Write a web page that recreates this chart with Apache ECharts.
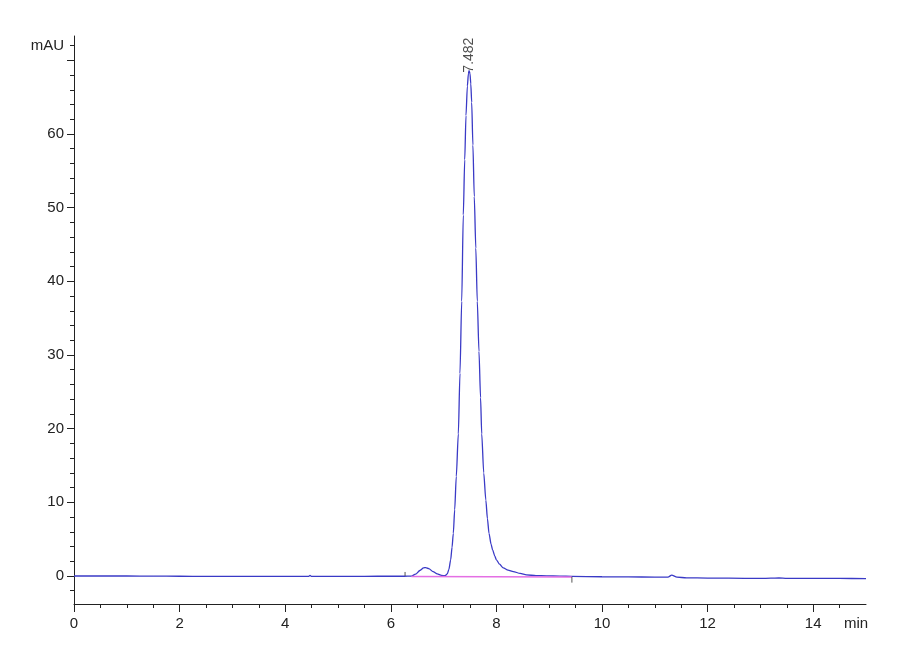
<!DOCTYPE html>
<html>
<head>
<meta charset="utf-8">
<script src="https://cdn.jsdelivr.net/npm/echarts@6/dist/echarts.min.js"></script>
<style>
  html, body { margin: 0; padding: 0; background: #ffffff; }
  #chart { width: 900px; height: 660px; }
</style>
</head>
<body>
<div id="chart"></div>
<script>
// ---- data ----
// detector trace: [time (min), signal (mAU)]
const trace = [
  [0, 0], [0.5, 0], [1, 0], [1.5, -0.02], [2, -0.03], [2.5, -0.05], [3, -0.05],
  [3.5, -0.05], [4, -0.05], [4.44, -0.05], [4.47, 0.08], [4.5, -0.05], [5, -0.04],
  [5.5, -0.04], [6, -0.03], [6.25, -0.03], [6.39, -0.02], [6.47, 0.25], [6.55, 0.75],
  [6.62, 1.1], [6.66, 1.15], [6.72, 1.0], [6.8, 0.6], [6.88, 0.28], [6.96, 0.08],
  [7.03, 0.05], [7.07, 0.3], [7.10, 0.9], [7.134, 2.2], [7.16, 3.9], [7.184, 5.8],
  [7.21, 9.0], [7.24, 13.5], [7.279, 19.3], [7.31, 27.5], [7.343, 37.3], [7.373, 49],
  [7.40, 56.5], [7.424, 62.5], [7.45, 66.5], [7.47, 68.2], [7.482, 68.6], [7.50, 68.2],
  [7.515, 66.8], [7.532, 64.3], [7.555, 58.5], [7.581, 51.5], [7.61, 44.5], [7.638, 37.3],
  [7.67, 30.5], [7.70, 24.2], [7.722, 19.3], [7.76, 14.0], [7.80, 10.3], [7.83, 7.8],
  [7.86, 5.8], [7.90, 4.3], [7.93, 3.5], [7.97, 2.7], [8.0, 2.2], [8.06, 1.6],
  [8.13, 1.1], [8.22, 0.8], [8.32, 0.6], [8.45, 0.35], [8.57, 0.15], [8.75, 0.06],
  [8.95, 0.02], [9.2, -0.02], [9.43, -0.05],
  [10, -0.1], [10.5, -0.12], [11, -0.15], [11.25, -0.15], [11.32, 0.12], [11.42, -0.15],
  [11.6, -0.25], [12, -0.28], [12.4, -0.3], [13, -0.32], [13.2, -0.3], [13.35, -0.27],
  [13.5, -0.32], [14, -0.33], [14.5, -0.33], [15, -0.35]
];
// integration baseline of the main peak
const integrationBaseline = [[6.39, -0.08], [9.43, -0.12]];
// event marks: [time, from, to]
const eventMarks = [[6.27, 0, 0.55], [9.43, -0.1, -0.9]];
// peak annotation
const peakTimes = [7.482];
const peakHeights = [68.6];

// axis ticks / labels
const xMajorTicks = [0, 2, 4, 6, 8, 10, 12, 14];
const xMinorTicks = [0.5, 1, 1.5, 2.5, 3, 3.5, 4.5, 5, 5.5, 6.5, 7, 7.5, 8.5, 9, 9.5,
                     10.5, 11, 11.5, 12.5, 13, 13.5, 14.5];
const xLabels = [0, 2, 4, 6, 8, 10, 12, 14];
const xUnit = 'min';
const yMajorTicks = [0, 10, 20, 30, 40, 50, 60, 70];
const yMinorTicks = [-2, 2, 4, 6, 8, 12, 14, 16, 18, 22, 24, 26, 28, 32, 34, 36, 38,
                     42, 44, 46, 48, 52, 54, 56, 58, 62, 64, 66, 68, 72];
const yLabels = [0, 10, 20, 30, 40, 50, 60];
const yUnit = 'mAU';

const X_MIN = 0, X_MAX = 15, Y_MIN = -3.8, Y_MAX = 73.3;
const UNIT_Y = 72; // where the y unit text sits

const axisColor = '#222';
const labelFont = { fontFamily: '"Liberation Sans Narrow", "Arial Narrow", "Liberation Sans", Arial, sans-serif', fontSize: 15, color: '#222' };

const chart = echarts.init(document.getElementById('chart'), null, { renderer: 'canvas' });

const series = [
  {
    type: 'line',
    data: trace,
    showSymbol: false,
    symbol: 'none',
    smooth: 0.25,
    smoothMonotone: 'x',
    lineStyle: { color: '#3a3ac6', width: 1.3 },
    z: 3,
    silent: true
  },
  {
    type: 'line',
    data: integrationBaseline,
    symbol: 'none',
    lineStyle: { color: '#e46fe4', width: 1.5 },
    z: 4,
    silent: true
  },
  {
    type: 'scatter',
    data: peakTimes.map((t, i) => [t, peakHeights[i]]),
    symbolSize: 0,
    label: {
      show: true,
      position: 'top',
      distance: -2,
      rotate: 90,
      align: 'left',
      verticalAlign: 'middle',
      formatter: p => p.value[0].toFixed(3),
      fontFamily: 'Liberation Sans, Arial, sans-serif',
      fontSize: 14,
      color: '#222'
    },
    z: 5,
    silent: true
  }
];
eventMarks.forEach(m => {
  series.push({
    type: 'line',
    data: [[m[0], m[1]], [m[0], m[2]]],
    symbol: 'none',
    lineStyle: { color: '#555', width: 1 },
    z: 5,
    silent: true
  });
});

chart.setOption({
  animation: false,
  backgroundColor: '#ffffff',
  grid: { left: 74, right: 34, top: 36, bottom: 56, containLabel: false },
  xAxis: [
    {
      type: 'value', min: X_MIN, max: X_MAX, position: 'bottom',
      axisLine: { show: true, onZero: false, lineStyle: { color: axisColor, width: 1 } },
      axisTick: { show: true, customValues: xMajorTicks, length: 8, lineStyle: { color: axisColor } },
      axisLabel: {
        show: true,
        customValues: xLabels.concat([X_MAX]),
        margin: 12,
        formatter: v => (v === X_MAX ? '{u|' + xUnit + '}' : String(v)),
        rich: { u: Object.assign({}, labelFont, { padding: [0, 20, 0, 0] }) },
        ...labelFont
      },
      splitLine: { show: false }
    },
    {
      type: 'value', min: X_MIN, max: X_MAX, position: 'bottom',
      axisLine: { show: false, onZero: false },
      axisTick: { show: true, customValues: xMinorTicks, length: 4, lineStyle: { color: axisColor } },
      axisLabel: { show: false },
      splitLine: { show: false }
    }
  ],
  yAxis: [
    {
      type: 'value', min: Y_MIN, max: Y_MAX, position: 'left',
      axisLine: { show: true, onZero: false, lineStyle: { color: axisColor, width: 1 } },
      axisTick: { show: true, customValues: yMajorTicks, length: 7, lineStyle: { color: axisColor } },
      axisLabel: {
        show: true,
        customValues: yLabels.concat([UNIT_Y]),
        margin: 10,
        formatter: v => (v === UNIT_Y ? yUnit : String(v)),
        ...labelFont
      },
      splitLine: { show: false }
    },
    {
      type: 'value', min: Y_MIN, max: Y_MAX, position: 'left',
      axisLine: { show: false, onZero: false },
      axisTick: { show: true, customValues: yMinorTicks, length: 4, lineStyle: { color: axisColor } },
      axisLabel: { show: false },
      splitLine: { show: false }
    }
  ],
  series: series
});
</script>
</body>
</html>
